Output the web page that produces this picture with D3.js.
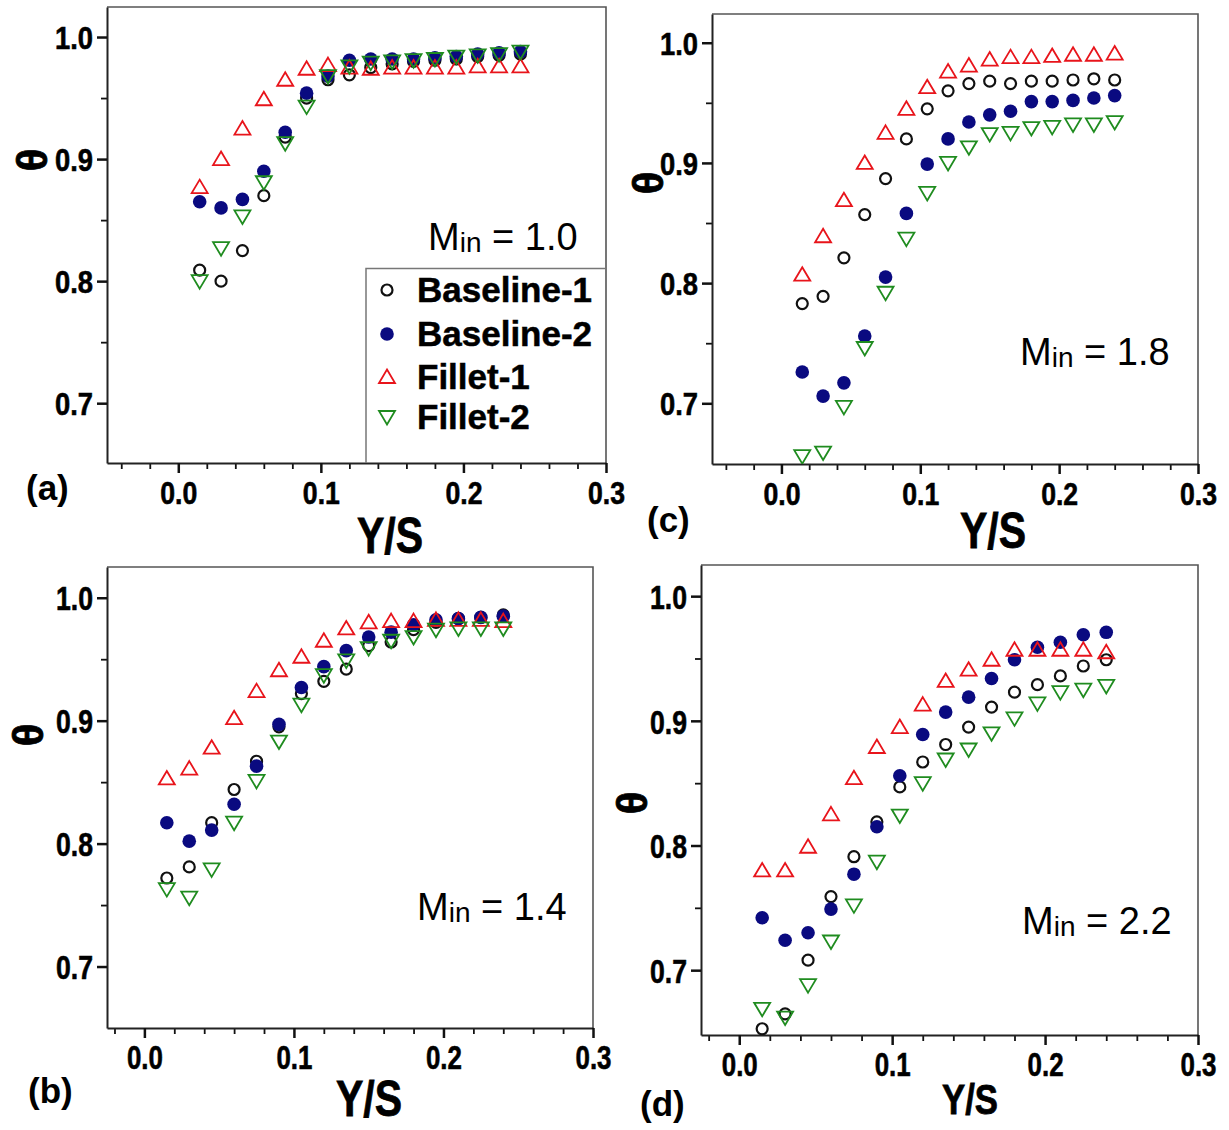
<!DOCTYPE html>
<html><head><meta charset="utf-8">
<script src="https://cdn.jsdelivr.net/npm/d3@7"></script>
<style>body{margin:0;background:#fff}</style>
</head><body><svg id="c" width="1229" height="1130" xmlns="http://www.w3.org/2000/svg"></svg>
<script>
// ---------- data ----------
const yOverS = [0.015,0.03,0.045,0.06,0.075,0.09,0.105,0.12,0.135,0.15,0.165,0.18,0.195,0.21,0.225,0.24];
const seriesNames = ["Baseline-1","Baseline-2","Fillet-1","Fillet-2"];
const xTickValues = [0.0,0.1,0.2,0.3];
const xTickLabels = ["0.0","0.1","0.2","0.3"];
const yTickValues = [0.7,0.8,0.9,1.0];
const yTickLabels = ["0.7","0.8","0.9","1.0"];
const machLabels = ["1.0","1.8","1.4","2.2"];
const panelTags = ["(a)","(c)","(b)","(d)"];

// (a) M_in = 1.0
const a_baseline1 = [0.809,0.800,0.825,0.870,0.918,0.950,0.965,0.969,0.975,0.978,0.980,0.981,0.982,0.984,0.985,0.986];
const a_baseline2 = [0.865,0.860,0.867,0.890,0.922,0.954,0.968,0.981,0.982,0.982,0.982,0.983,0.984,0.986,0.987,0.988];
const a_fillet1   = [0.877,0.900,0.925,0.949,0.965,0.974,0.977,0.975,0.974,0.975,0.975,0.975,0.975,0.976,0.976,0.976];
const a_fillet2   = [0.800,0.827,0.853,0.881,0.913,0.943,0.968,0.976,0.979,0.980,0.981,0.982,0.984,0.985,0.986,0.988];
// (c) M_in = 1.8
const c_baseline1 = [0.783,0.789,0.821,0.857,0.887,0.920,0.945,0.960,0.966,0.968,0.966,0.968,0.968,0.969,0.970,0.969];
const c_baseline2 = [0.726,0.706,0.717,0.756,0.805,0.858,0.899,0.920,0.934,0.940,0.943,0.951,0.951,0.952,0.954,0.956];
const c_fillet1   = [0.807,0.839,0.869,0.900,0.925,0.945,0.963,0.976,0.981,0.986,0.988,0.988,0.989,0.990,0.990,0.991];
const c_fillet2   = [0.656,0.659,0.697,0.746,0.792,0.837,0.875,0.900,0.913,0.924,0.925,0.929,0.930,0.932,0.932,0.934];
// (b) M_in = 1.4
const b_baseline1 = [0.772,0.781,0.817,0.844,0.867,0.895,0.922,0.932,0.942,0.961,0.964,0.974,0.980,0.983,0.984,0.986];
const b_baseline2 = [0.817,0.802,0.811,0.832,0.863,0.897,0.927,0.944,0.957,0.968,0.972,0.978,0.982,0.983,0.984,0.985];
const b_fillet1   = [0.853,0.861,0.878,0.902,0.924,0.941,0.952,0.965,0.975,0.980,0.981,0.981,0.982,0.982,0.982,0.981];
const b_fillet2   = [0.763,0.756,0.779,0.817,0.851,0.883,0.913,0.937,0.949,0.959,0.965,0.968,0.974,0.975,0.975,0.975];
// (d) M_in = 2.2
const d_baseline1 = [0.653,0.665,0.708,0.759,0.791,0.819,0.847,0.867,0.881,0.895,0.911,0.923,0.929,0.936,0.944,0.949];
const d_baseline2 = [0.742,0.724,0.730,0.749,0.777,0.815,0.856,0.889,0.907,0.919,0.934,0.949,0.959,0.963,0.969,0.971];
const d_fillet1   = [0.780,0.780,0.799,0.825,0.854,0.879,0.895,0.913,0.932,0.941,0.949,0.957,0.957,0.957,0.957,0.955];
const d_fillet2   = [0.669,0.662,0.688,0.723,0.752,0.787,0.824,0.850,0.869,0.877,0.890,0.902,0.914,0.923,0.925,0.928];

const panelSeries = [
  [a_baseline1,a_baseline2,a_fillet1,a_fillet2],
  [c_baseline1,c_baseline2,c_fillet1,c_fillet2],
  [b_baseline1,b_baseline2,b_fillet1,b_fillet2],
  [d_baseline1,d_baseline2,d_fillet1,d_fillet2]
];

// ---------- layout ----------
const layout = [
  {l:107,r:606,t:7,b:463,xd:[-0.05,0.3],yd:[0.651,1.0246],tick:32,tickW:37,
   theta:[32,160],tag:[26,500],ys:[390,553,50,66],m:[428,250]},
  {l:712,r:1198,t:14,b:464,xd:[-0.05,0.3],yd:[0.6495,1.0239],tick:32,tickW:37,
   theta:[648,183],tag:[647,532],ys:[993,548,50,66],m:[1020,365]},
  {l:107,r:593,t:567,b:1028,xd:[-0.025,0.3],yd:[0.65,1.025],tick:34,tickW:36,
   theta:[28,735],tag:[28,1103],ys:[369,1116,50,66],m:[417,920]},
  {l:701,r:1198,t:565,b:1035,xd:[-0.025,0.3],yd:[0.648,1.025],tick:34,tickW:36,
   theta:[632,803],tag:[640,1116],ys:[970,1114,42,56],m:[1022,934]}
];
const colors = ["#111111","#0a0a80","#e8141b","#1f8c1f"];
const FONT = "'Liberation Sans', Arial, sans-serif";

const svg = d3.select("#c");

function marker(sel, i){
  if(i===0){
    sel.append("circle").attr("r",5.5).attr("fill","none").attr("stroke",colors[0]).attr("stroke-width",2.2);
  } else if(i===1){
    sel.append("circle").attr("r",6.8).attr("fill",colors[1]);
  } else if(i===2){
    sel.append("path").attr("d","M0,-7.5L8,6L-8,6Z").attr("fill","none").attr("stroke",colors[2]).attr("stroke-width",1.8);
  } else {
    sel.append("path").attr("d","M0,7.5L8,-6L-8,-6Z").attr("fill","none").attr("stroke",colors[3]).attr("stroke-width",1.8);
  }
}

layout.forEach((p, pi) => {
  const g = svg.append("g");
  const x = d3.scaleLinear().domain(p.xd).range([p.l, p.r]);
  const y = d3.scaleLinear().domain(p.yd).range([p.b, p.t]);

  // frame (top / right)
  g.append("path").attr("d",`M${p.l},${p.t}H${p.r}V${p.b}`).attr("fill","none").attr("stroke","#555").attr("stroke-width",1.6);

  // minor ticks
  const xMinor = d3.range(-0.04, 0.3, 0.02).filter(v => v >= p.xd[0]-1e-9 && Math.abs(v*10 - Math.round(v*10)) > 1e-6);
  const yMinor = [0.75,0.85,0.95];
  g.append("g").attr("transform",`translate(0,${p.b})`)
    .call(d3.axisBottom(x).tickValues(xMinor).tickSize(6).tickFormat(""))
    .call(s => s.select(".domain").remove())
    .call(s => s.selectAll("line").attr("stroke","#111").attr("stroke-width",1.8));
  g.append("g").attr("transform",`translate(${p.l},0)`)
    .call(d3.axisLeft(y).tickValues(yMinor).tickSize(6).tickFormat(""))
    .call(s => s.select(".domain").remove())
    .call(s => s.selectAll("line").attr("stroke","#111").attr("stroke-width",1.8));

  // major axes
  const xa = g.append("g").attr("transform",`translate(0,${p.b})`)
    .call(d3.axisBottom(x).tickValues(xTickValues).tickSize(10).tickSizeOuter(0).tickFormat((d,i)=>xTickLabels[i]));
  xa.select(".domain").attr("stroke","#222").attr("stroke-width",2);
  xa.selectAll("line").attr("stroke","#111").attr("stroke-width",2.5);
  xa.selectAll("text").attr("y", 41).attr("dy", null)
    .attr("font-family",FONT).attr("font-weight","bold").attr("font-size",p.tick)
    .attr("fill","#000").attr("stroke","#000").attr("stroke-width",0.6)
    .attr("textLength",p.tickW).attr("lengthAdjust","spacingAndGlyphs");

  const ya = g.append("g").attr("transform",`translate(${p.l},0)`)
    .call(d3.axisLeft(y).tickValues(yTickValues).tickSize(10).tickSizeOuter(0).tickFormat((d,i)=>yTickLabels[i]));
  ya.select(".domain").attr("stroke","#222").attr("stroke-width",2);
  ya.selectAll("line").attr("stroke","#111").attr("stroke-width",2.5);
  ya.selectAll("text").attr("x", -14).attr("dy","0.36em")
    .attr("font-family",FONT).attr("font-weight","bold").attr("font-size",p.tick)
    .attr("fill","#000").attr("stroke","#000").attr("stroke-width",0.6)
    .attr("textLength",p.tickW+1).attr("lengthAdjust","spacingAndGlyphs");
  ya.attr("font-size",null); xa.attr("font-size",null);

  // clip + data
  const cid = "clip"+pi;
  svg.append("clipPath").attr("id",cid).append("rect")
    .attr("x",p.l).attr("y",p.t).attr("width",p.r-p.l).attr("height",p.b-p.t);
  const dg = g.append("g").attr("clip-path",`url(#${cid})`);
  panelSeries[pi].forEach((vals, si) => {
    const pts = dg.append("g").selectAll("g").data(vals).join("g")
      .attr("transform",(d,i)=>`translate(${x(yOverS[i])},${y(d)})`);
    pts.each(function(){ marker(d3.select(this), si); });
  });

  // Y axis title theta
  g.append("text").attr("transform",`translate(${p.theta[0]},${p.theta[1]}) rotate(-90)`)
    .attr("text-anchor","middle").attr("dy","0.35em")
    .attr("font-family",FONT).attr("font-weight","bold").attr("font-size",42)
    .attr("stroke","#000").attr("stroke-width",0.8).text("θ");

  // X axis title
  g.append("text").attr("x",p.ys[0]).attr("y",p.ys[1]).attr("text-anchor","middle")
    .attr("font-family",FONT).attr("font-weight","bold").attr("font-size",p.ys[2])
    .attr("stroke","#000").attr("stroke-width",0.8)
    .attr("textLength",p.ys[3]).attr("lengthAdjust","spacingAndGlyphs").text("Y/S");

  // panel tag
  g.append("text").attr("x",p.tag[0]).attr("y",p.tag[1])
    .attr("font-family",FONT).attr("font-weight","bold").attr("font-size",35).text(panelTags[pi]);

  // Mach label
  const mt = g.append("text").attr("x",p.m[0]).attr("y",p.m[1])
    .attr("font-family",FONT).attr("font-size",38).attr("fill","#000");
  mt.append("tspan").text("M");
  mt.append("tspan").attr("font-size",28).attr("dy",2).text("in");
  mt.append("tspan").attr("dy",-2).text(" = " + machLabels[pi]);
});

// legend in (a)
const lg = svg.append("g");
lg.append("path").attr("d","M366,463V268.5H606").attr("fill","none").attr("stroke","#777").attr("stroke-width",1.5);
const legY = [290,334,377,417];
seriesNames.forEach((n,i)=>{
  const it = lg.append("g").attr("transform",`translate(387,${legY[i]})`);
  marker(it, i);
  lg.append("text").attr("x",417).attr("y",legY[i]+12)
    .attr("font-family",FONT).attr("font-weight","bold").attr("font-size",35)
    .attr("stroke","#000").attr("stroke-width",0.5).text(n);
});
</script>
</body></html>
